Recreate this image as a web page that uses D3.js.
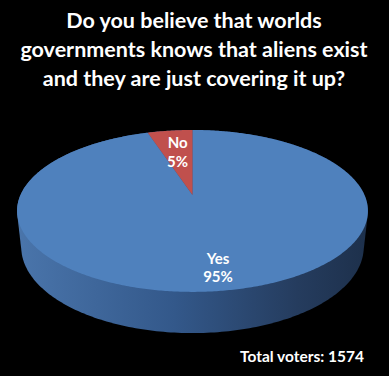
<!DOCTYPE html>
<html>
<head>
<meta charset="utf-8">
<script src="https://cdn.jsdelivr.net/npm/d3@7"></script>
<style>
  html, body { margin: 0; padding: 0; background: #000; }
  svg { display: block; }
</style>
</head>
<body>
<div id="chart"></div>
<script>
// Poll results drawn as a tilted 3D pie

const titleLines = [
  "Do you believe that worlds",
  "governments knows that aliens exist",
  "and they are just covering it up?"
];
const categories = ["Yes", "No"];
const percents = [95, 5];
const totalVoters = 1574;

const FRAME_WIDTH = 389;
const FRAME_HEIGHT = 376;
const FONT = "Lato, 'Open Sans', sans-serif";

// projection of the pie disk (unit radius) to the screen
const CX = 192.5, CY = 195, SCALE = 172;
const PHI = 26.9 * Math.PI / 180;
const DIST = 4.53;
const THICK = 0.237;
const LABEL_R = [0.8, 0.62];

function project(a, r, h) {
  const x = r * Math.sin(a), z = -r * Math.cos(a);
  const yv = z * Math.sin(PHI) - h * Math.cos(PHI);
  const d = z * Math.cos(PHI) + h * Math.sin(PHI);
  const k = DIST / (DIST - d);
  return [CX + SCALE * x * k, CY + SCALE * yv * k];
}

const color = d3.scaleOrdinal().domain(categories).range(["#4f81bd", "#c0504d"]);

const svg = d3.select("#chart").append("svg")
  .attr("width", FRAME_WIDTH)
  .attr("height", FRAME_HEIGHT);

// side of the cylinder: hull of top and bottom rings
const ring = [];
for (let i = 0; i < 360; i++) {
  const a = i * Math.PI / 180;
  ring.push(project(a, 1, 0));
  ring.push(project(a, 1, -THICK));
}
const hull = d3.polygonHull(ring);
const xExt = d3.extent(hull, p => p[0]);

const grad = svg.append("defs").append("linearGradient")
  .attr("id", "side")
  .attr("gradientUnits", "userSpaceOnUse")
  .attr("x1", xExt[0]).attr("x2", xExt[1])
  .attr("y1", 0).attr("y2", 0);
grad.selectAll("stop")
  .data([[0, "#4a75ab"], [0.45, "#33588a"], [0.8, "#253c5e"], [1, "#1d304b"]])
  .enter().append("stop")
  .attr("offset", d => d[0])
  .attr("stop-color", d => d[1]);

svg.append("path")
  .attr("d", "M" + hull.join("L") + "Z")
  .attr("fill", "url(#side)");

// top face
const pie = d3.pie().sort(null).value(d => d)(percents);
const line = d3.line();

svg.selectAll("path.slice")
  .data(pie)
  .enter()
  .append("path")
  .attr("class", "slice")
  .attr("d", d => {
    const pts = [project(0, 0, 0)];
    const n = Math.max(2, Math.ceil((d.endAngle - d.startAngle) / 0.01));
    for (let i = 0; i <= n; i++) {
      pts.push(project(d.startAngle + (d.endAngle - d.startAngle) * i / n, 1, 0));
    }
    return line(pts) + "Z";
  })
  .attr("fill", (d, i) => color(categories[i]));

// slice labels
const labels = svg.selectAll("text.lbl")
  .data(pie)
  .enter()
  .append("text")
  .attr("class", "lbl")
  .attr("text-anchor", "middle")
  .attr("font-family", FONT)
  .attr("font-weight", "bold")
  .attr("font-size", "15px")
  .attr("fill", "#fff")
  .attr("transform", (d, i) => {
    const p = project((d.startAngle + d.endAngle) / 2, LABEL_R[i], 0);
    return "translate(" + p[0] + "," + p[1] + ")";
  });
labels.append("tspan").attr("x", 0).attr("y", -4).text((d, i) => categories[i]);
labels.append("tspan").attr("x", 0).attr("y", 14.5).text(d => d.value + "%");

// title
svg.append("g").selectAll("text")
  .data(titleLines)
  .enter()
  .append("text")
  .attr("x", 194)
  .attr("y", (d, i) => 28 + i * 29)
  .attr("text-anchor", "middle")
  .attr("font-family", FONT)
  .attr("font-weight", "bold")
  .attr("font-size", "21.5px")
  .attr("fill", "#fff")
  .text(d => d);

svg.append("text")
  .attr("x", 364)
  .attr("y", 362)
  .attr("text-anchor", "end")
  .attr("font-family", FONT)
  .attr("font-weight", "bold")
  .attr("font-size", "15.5px")
  .attr("fill", "#fff")
  .text("Total voters: " + totalVoters);
</script>
</body>
</html>
